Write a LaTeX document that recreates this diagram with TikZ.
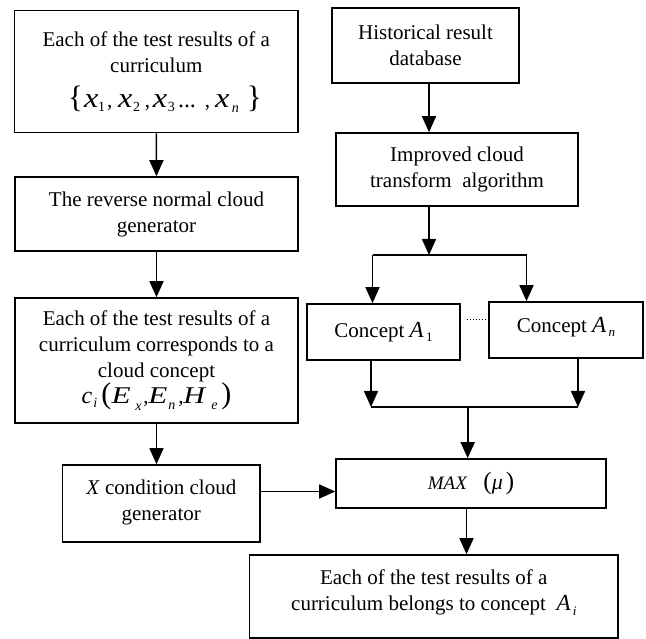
\documentclass[tikz,border=0pt]{standalone}
\usepackage{fontspec}
\setmainfont{Liberation Serif}
\usetikzlibrary{arrows.meta,calc}
\newcommand\lo[1]{\raisebox{-0.45ex}{\fontsize{13}{13}\selectfont #1}}
\newcommand\dn[2]{\raisebox{-#1}{\fontsize{14}{14}\selectfont #2}}
\newcommand\ix[1]{\textit{#1}}
\newcommand\bigsz[2]{{\fontsize{#1}{#1}\selectfont #2}}
\newcommand\pc[2]{\makebox[#1][l]{#2}}
\newcommand\wide[2]{\scalebox{#1}[1]{#2}}
\begin{document}
\begin{tikzpicture}[x=1pt,y=-1pt,
  box/.style={draw, line width=1.6pt, align=center, inner sep=0pt, font=\fontsize{21}{26}\selectfont},
  arr/.style={line width=1.6pt, -{Triangle[length=16pt,width=14pt]}},
  ln/.style={line width=1.6pt}]
\useasboundingbox (0,0) rectangle (646,639);

\node[box, minimum width=283.5pt, minimum height=122pt] (b1) at (156.3,71.7)
  {Each of the test results of a\\ curriculum\\[9pt]
   \hspace*{13.4pt}\pc{16pt}{\bigsz{31}{\{}}\pc{14pt}{\wide{1.15}{\bigsz{28}{\ix{x}}}}\pc{9pt}{\dn{4pt}{1}}\pc{11pt}{,}%
   \pc{15pt}{\wide{1.15}{\bigsz{28}{\ix{x}}}}\pc{12pt}{\dn{4pt}{2}}\pc{8pt}{,}%
   \pc{15pt}{\wide{1.15}{\bigsz{28}{\ix{x}}}}\pc{10pt}{\dn{4pt}{3}}\pc{27pt}{\bigsz{24}{...}}\pc{10pt}{,}%
   \pc{17pt}{\wide{1.15}{\bigsz{28}{\ix{x}}}}\pc{15pt}{\dn{5pt}{\ix{n}}}\pc{11pt}{\bigsz{31}{\}}}\\[-22pt]};
\node[box, minimum width=283pt, minimum height=74pt] (rev) at (156.5,214)
  {The reverse normal cloud\\ generator};
\node[box, minimum width=283pt, minimum height=125pt] (b3) at (156.5,360.5)
  {Each of the test results of a\\ curriculum corresponds to a\\ cloud concept\\
   \pc{12pt}{\bigsz{24}{\ix{c}}}\pc{8pt}{\dn{4pt}{\ix{i}}}\pc{10pt}{\bigsz{30}{(}}%
   \pc{24pt}{\wide{1.3}{\bigsz{24}{\ix{E}}}}\pc{8pt}{\dn{7pt}{\ix{x}}}\pc{5pt}{,}%
   \pc{20pt}{\wide{1.3}{\bigsz{24}{\ix{E}}}}\pc{10pt}{\dn{6pt}{\ix{n}}}\pc{5pt}{,}%
   \pc{28pt}{\wide{1.25}{\bigsz{24}{\ix{H}}}}\pc{10pt}{\dn{6pt}{\ix{e}}}\pc{10pt}{\bigsz{30}{)}}};
\node[box, minimum width=197.5pt, minimum height=77pt] (X) at (161.25,503.5)
  {\ix{X} condition cloud\\ generator\\[-19pt]};
\node[box, minimum width=187pt, minimum height=75pt] (hist) at (425.5,45.7)
  {Historical result\\ database};
\node[box, minimum width=242pt, minimum height=73pt] (impr) at (457,169.5)
  {Improved cloud\\ transform\ \ algorithm};
\node[box, minimum width=153pt, minimum height=56pt] (A1) at (383.5,332)
  {Concept \bigsz{23}{\ix{A}}\lo{\,1}};
\node[box, minimum width=154pt, minimum height=56pt] (An) at (566,330)
  {Concept \bigsz{23}{\ix{A}}\lo{\,\ix{n}}\\[-16pt]};
\node[box, minimum width=270pt, minimum height=49pt] (max) at (471,483.5)
  {\bigsz{19}{\ix{MAX}}\hspace{16pt}\bigsz{25}{(}\bigsz{22}{\ix{μ}}\hspace{3pt}\bigsz{25}{)}};
\node[box, minimum width=368.4pt, minimum height=83pt] (fin) at (433.8,596.5)
  {Each of the test results of a\\ curriculum belongs to concept\ \ \bigsz{23}{\ix{A}}\lo{\,\ix{i}}\\[-14pt]};

% left column
\draw[arr] (b1) -- (rev);
\draw[arr] (rev) -- (b3);
\draw[arr] (b3.south) -- (b3.south |- X.north);
\draw[arr] ([yshift=12pt]X.east) -- ([yshift=12pt]X.east -| max.west);

% right column
\draw[arr] ([xshift=3.5pt]hist.south) -- ([xshift=3.5pt]hist.south |- impr.north);
\coordinate (br) at (429,255);
\coordinate (brL) at (372.5,255);
\coordinate (brR) at (526.5,255);
\draw[arr] (impr.south -| br) -- (br);
\draw[ln] (brL) -- (brR);
\draw[arr] (brL) -- (brL |- A1.north);
\draw[arr] (brR) -- (brR |- An.north);
\draw[dotted, line width=1pt] ([xshift=6pt,yshift=-16pt]A1.north east) coordinate (d1) -- (d1 -| An.west);

\coordinate (mL) at (371,407);
\coordinate (mR) at (578,407);
\coordinate (mC) at (467.7,407);
\draw[arr] (A1.south -| mL) -- (mL);
\draw[arr] (An.south -| mR) -- (mR);
\draw[ln] (mL) -- (mR);
\draw[arr] (mC) -- (mC |- max.north);
\draw[arr] ([xshift=-4.5pt]max.south) -- ([xshift=-4.5pt]max.south |- fin.north);
\end{tikzpicture}
\end{document}
